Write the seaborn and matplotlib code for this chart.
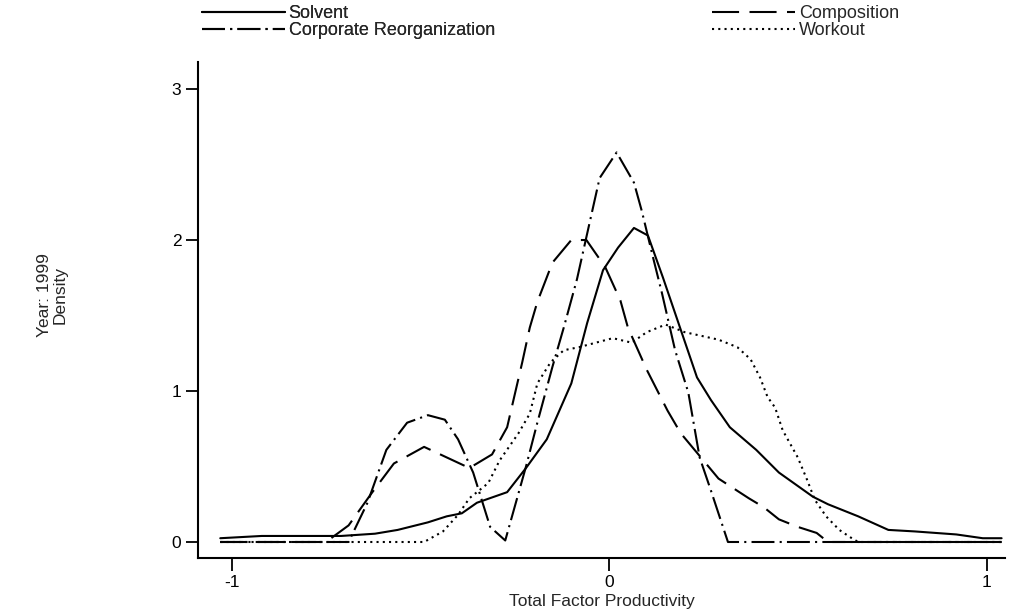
import numpy as np
import pandas as pd
import matplotlib
matplotlib.use("Agg")
import matplotlib.pyplot as plt
import seaborn as sns

# kernel density estimates (year 1999)
solvent_x = [-1.03, -0.92, -0.71, -0.62, -0.56, -0.48, -0.43, -0.39, -0.35, -0.27,
             -0.22, -0.165, -0.10, -0.058, -0.016, 0.024, 0.066, 0.103, 0.143, 0.188,
             0.233, 0.27, 0.32, 0.39, 0.45, 0.54, 0.58, 0.66, 0.74, 0.81, 0.92, 0.99, 1.04]
solvent_y = [0.025, 0.04, 0.04, 0.055, 0.08, 0.13, 0.17, 0.19, 0.26, 0.33,
             0.49, 0.68, 1.05, 1.45, 1.80, 1.95, 2.08, 2.03, 1.75, 1.42,
             1.09, 0.94, 0.76, 0.61, 0.46, 0.30, 0.25, 0.17, 0.08, 0.07, 0.05, 0.025, 0.025]

composition_x = [-1.03, -0.75, -0.69, -0.63, -0.57, -0.49, -0.43, -0.37, -0.31, -0.27,
                 -0.23, -0.21, -0.19, -0.15, -0.10, -0.06, -0.01, 0.03, 0.05, 0.10,
                 0.155, 0.19, 0.29, 0.37, 0.41, 0.45, 0.50, 0.55, 0.58, 1.04]
composition_y = [0.0, 0.0, 0.11, 0.32, 0.52, 0.63, 0.56, 0.49, 0.58, 0.76,
                 1.19, 1.42, 1.59, 1.85, 2.0, 2.0, 1.82, 1.6, 1.42, 1.14,
                 0.87, 0.72, 0.42, 0.29, 0.23, 0.15, 0.10, 0.06, 0.0, 0.0]

reorg_x = [-1.03, -0.69, -0.64, -0.59, -0.535, -0.48, -0.435, -0.40, -0.36, -0.315,
           -0.275, -0.22, -0.19, -0.15, -0.12, -0.085, -0.06, -0.025, 0.02, 0.066,
           0.087, 0.116, 0.14, 0.175, 0.21, 0.24, 0.27, 0.315, 1.04]
reorg_y = [0.0, 0.0, 0.26, 0.61, 0.79, 0.84, 0.81, 0.68, 0.46, 0.10,
           0.01, 0.5, 0.79, 1.16, 1.42, 1.74, 2.02, 2.41, 2.58, 2.38,
           2.19, 1.89, 1.65, 1.27, 0.99, 0.56, 0.34, 0.0, 0.0]

workout_x = [-1.03, -0.49, -0.44, -0.40, -0.37, -0.32, -0.29, -0.24, -0.21, -0.19,
             -0.155, -0.12, -0.08, 0.01, 0.06, 0.10, 0.15, 0.20, 0.29, 0.34,
             0.375, 0.40, 0.42, 0.44, 0.46, 0.50, 0.525, 0.545, 0.575, 0.61,
             0.64, 0.66, 1.04]
workout_y = [0.0, 0.0, 0.07, 0.18, 0.29, 0.39, 0.54, 0.72, 0.85, 1.05,
             1.19, 1.27, 1.29, 1.35, 1.32, 1.39, 1.44, 1.39, 1.34, 1.29,
             1.21, 1.09, 0.96, 0.89, 0.74, 0.56, 0.41, 0.28, 0.17, 0.08,
             0.03, 0.0, 0.0]

groups = ["Solvent", "Corporate Reorganization", "Composition", "Workout"]
xs = [solvent_x, reorg_x, composition_x, workout_x]
ys = [solvent_y, reorg_y, composition_y, workout_y]

frames = []
for g, x, y in zip(groups, xs, ys):
    frames.append(pd.DataFrame({"tfp": x, "density": y, "group": g}))
df = pd.concat(frames, ignore_index=True)

sns.set_style("ticks")
plt.rcParams["font.family"] = ["Liberation Sans", "DejaVu Sans"]
plt.rcParams["axes.unicode_minus"] = False

fig = plt.figure(figsize=(10.16, 6.15), dpi=100)
ax = fig.add_axes([198 / 1016, 1 - 558 / 615, (1005 - 198) / 1016, (558 - 62) / 615])

dashes = {
    "Solvent": "",
    "Corporate Reorganization": (11, 2.5, 1, 2.5),
    "Composition": (13, 5),
    "Workout": (1, 2),
}
sns.lineplot(data=df, x="tfp", y="density", style="group", style_order=groups,
             dashes=dashes, color="black", linewidth=1.5, sort=False,
             estimator=None, legend=False, ax=ax)

ax.set_xlim(-1.089, 1.049)
ax.set_ylim(-0.106, 3.179)
ax.set_xticks([-1, 0, 1])
ax.set_yticks([0, 1, 2, 3])
ax.tick_params(length=9, width=1.3, labelsize=12.5, pad=3, colors="black")
for side in ["left", "bottom"]:
    ax.spines[side].set_linewidth(1.5)
    ax.spines[side].set_color("black")
sns.despine(ax=ax)

ax.set_xlabel("Total Factor Productivity", fontsize=12.5, labelpad=3)
ax.set_ylabel("Year: 1999\nDensity", fontsize=12.5, linespacing=1.0)
ax.yaxis.set_label_coords(-0.162, 0.53)

# two legend columns, placed separately
leg_kw = dict(frameon=False, loc="upper left", fontsize=13, handlelength=4.6,
              handletextpad=0.2, labelspacing=0.0, borderpad=0, borderaxespad=0)
leg1 = fig.legend(ax.lines[:2], groups[:2],
                  bbox_to_anchor=(202 / 1016, 1 - 5 / 615), **leg_kw)
fig.add_artist(leg1)
fig.legend(ax.lines[2:4], groups[2:4],
           bbox_to_anchor=(712 / 1016, 1 - 5 / 615), **leg_kw)

fig.savefig("out.png", dpi=100)
